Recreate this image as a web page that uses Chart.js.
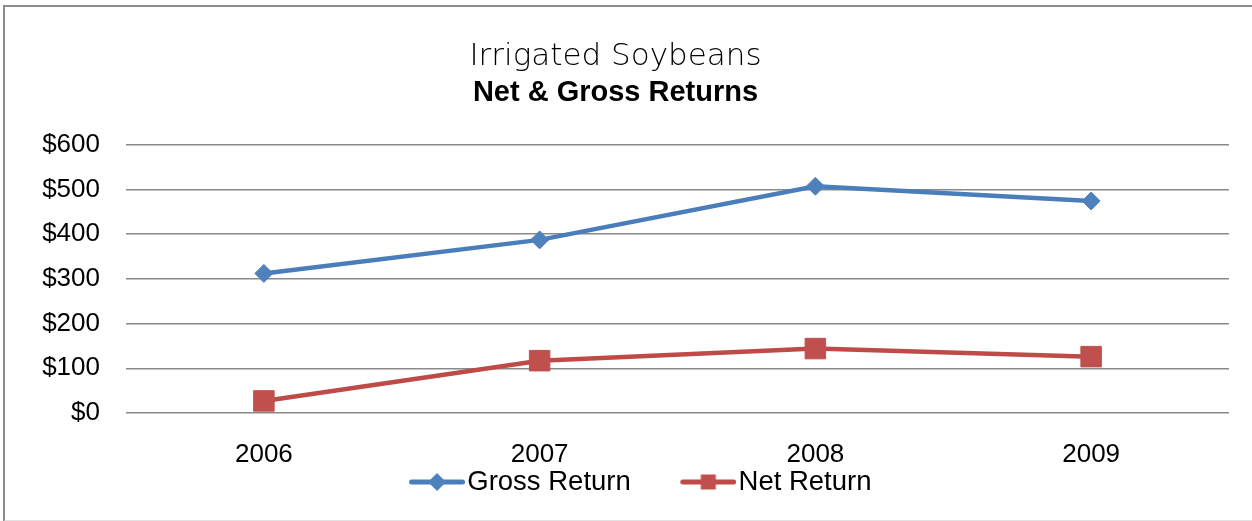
<!DOCTYPE html>
<html>
<head>
<meta charset="utf-8">
<script src="https://cdn.jsdelivr.net/npm/chart.js@4"></script>
<style>
    body { margin: 0; background: #ffffff; }
    #frame {
        position: absolute; left: 3px; top: 5px;
        width: 1260px; height: 513px;
        border: 2px solid #8c8c8c;
        border-bottom-color: #e2e2e2;
    }
    #wrap { position: absolute; left: 0; top: 0; width: 1252px; height: 521px; }
</style>
</head>
<body>
<div id="frame"></div>
<div id="wrap"><canvas id="myChart" width="1252" height="521"></canvas></div>
<script>
// Données
var years = ['2006', '2007', '2008', '2009'];
var grossReturn = [312, 387, 507, 474];
var netReturn = [27, 117, 144, 126];
var yMin = 0, yMax = 600, yStep = 100;

var blue = '#4a7ebb', blueMark = '#4f81bd';
var red = '#be4b48', redMark = '#c0504d';
var font = "'Liberation Sans', Arial, sans-serif";

// Icône de légende : ligne + marqueur, calée à droite de l'image
// (la partie vide à gauche sert d'espace entre les deux entrées)
function legendIcon(color, markColor, shape) {
    var c = document.createElement('canvas');
    c.width = 117;
    c.height = 20;
    var g = c.getContext('2d');
    g.strokeStyle = color;
    g.lineWidth = 5;
    g.lineCap = 'round';
    g.beginPath();
    g.moveTo(63.5, 10);
    g.lineTo(114.5, 10);
    g.stroke();
    g.fillStyle = markColor;
    g.beginPath();
    if (shape === 'diamond') {
        g.moveTo(89, 1); g.lineTo(98, 10); g.lineTo(89, 19); g.lineTo(80, 10);
    } else {
        g.rect(81.5, 2.5, 15, 15);
    }
    g.closePath();
    g.fill();
    return c;
}
var icons = [legendIcon(blue, blueMark, 'diamond'), legendIcon(red, redMark, 'square')];

var ctx = document.getElementById('myChart').getContext('2d');
var myChart = new Chart(ctx, {
    type: 'line',
    data: {
        labels: years,
        datasets: [
            {
                label: 'Gross Return',
                data: grossReturn,
                borderColor: blue,
                backgroundColor: blueMark,
                borderWidth: 4.5,
                pointStyle: 'rectRot',
                pointRadius: 9,
                pointBorderWidth: 1,
                pointBorderColor: blueMark,
                pointBackgroundColor: blueMark,
                tension: 0,
                fill: false
            },
            {
                label: 'Net Return',
                data: netReturn,
                borderColor: red,
                backgroundColor: redMark,
                borderWidth: 4.5,
                pointStyle: 'rect',
                pointRadius: 14.5,
                pointBorderWidth: 1,
                pointBorderColor: redMark,
                pointBackgroundColor: redMark,
                tension: 0,
                fill: false
            }
        ]
    },
    options: {
        responsive: false,
        animation: false,
        layout: {
            padding: { left: 2, right: 23, top: 0, bottom: 15.3 }
        },
        plugins: {
            title: {
                display: true,
                text: 'Irrigated Soybeans',
                color: '#000000',
                font: { family: "'DejaVu Sans', Verdana, sans-serif", size: 31, weight: 300, lineHeight: 1.2 },
                padding: { top: 38, bottom: 0 }
            },
            subtitle: {
                display: true,
                text: 'Net & Gross Returns',
                color: '#000000',
                font: { family: font, size: 29, weight: 'bold', lineHeight: 1.2 },
                padding: { top: 0, bottom: 34.6 }
            },
            legend: {
                position: 'bottom',
                labels: {
                    usePointStyle: true,
                    pointStyleWidth: 94,
                    padding: 0,
                    color: '#000000',
                    font: { family: font, size: 27.5, lineHeight: 1 },
                    generateLabels: function(chart) {
                        var items = Chart.defaults.plugins.legend.labels.generateLabels(chart);
                        items.forEach(function(item, i) {
                            item.pointStyle = icons[i];
                        });
                        return items;
                    }
                }
            },
            tooltip: { enabled: false }
        },
        scales: {
            x: {
                offset: true,
                grid: { display: false, drawTicks: false },
                border: { display: false },
                ticks: {
                    color: '#000000',
                    font: { family: font, size: 26, lineHeight: 1 },
                    padding: 28.7,
                    maxRotation: 0
                },
                afterFit: function(scale) {
                    scale.height = 55.2;
                }
            },
            y: {
                min: yMin,
                max: yMax,
                border: { display: false },
                grid: {
                    color: '#8a8a8a',
                    lineWidth: 1.5,
                    drawTicks: false
                },
                ticks: {
                    stepSize: yStep,
                    color: '#000000',
                    font: { family: font, size: 26 },
                    padding: 26,
                    callback: function(value) {
                        return '$' + value;
                    }
                },
                afterFit: function(scale) {
                    scale.width = 124;
                }
            }
        }
    }
});
</script>
</body>
</html>
